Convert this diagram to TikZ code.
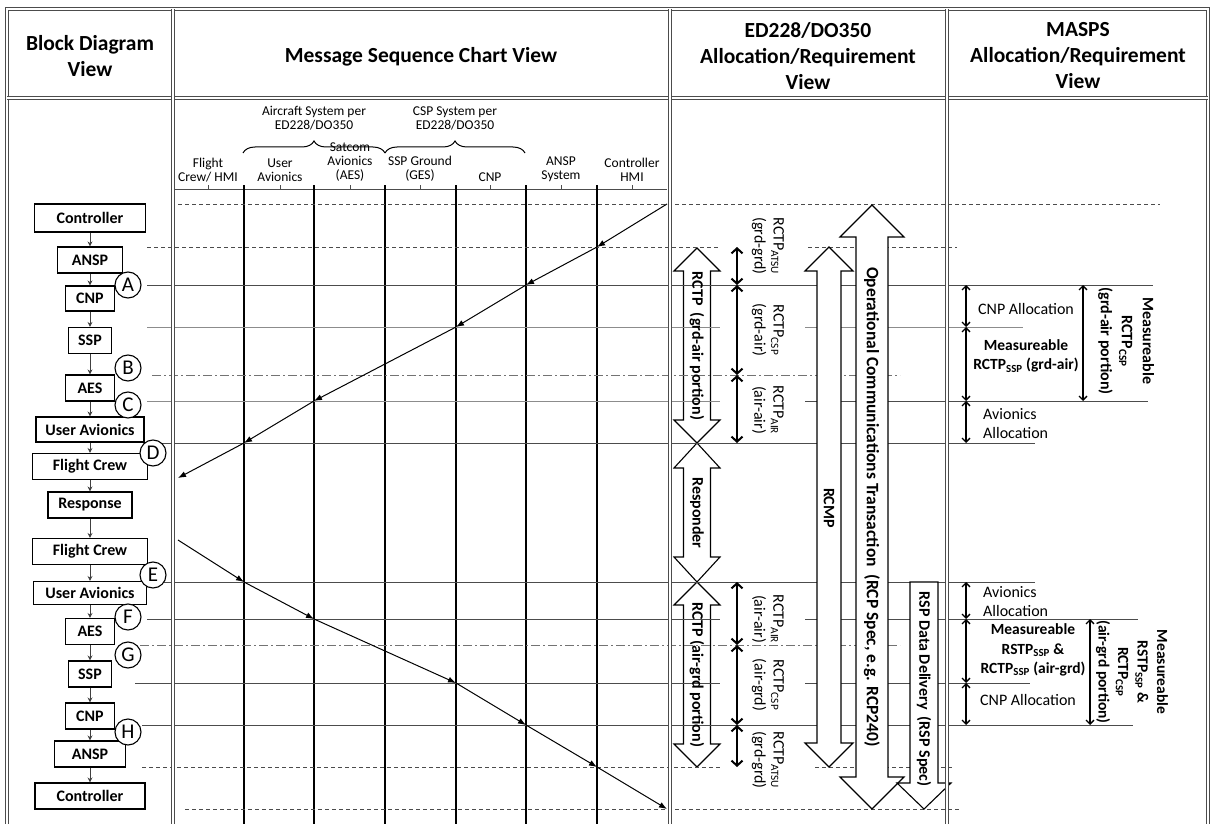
\documentclass[tikz,border=0pt]{standalone}
\usepackage{fontspec}
\setmainfont{Carlito}
\usetikzlibrary{arrows.meta,decorations.pathreplacing}
\newcommand{\fsz}[2]{\fontsize{#1}{#2}\selectfont}
% xc, ytop, ybot, half shaft, half head, head length
\newcommand{\dblarr}[6]{%
  \path[fat] (#1,#2) -- ({#1+#5},{#2+#6}) -- ({#1+#4},{#2+#6}) -- ({#1+#4},{#3-#6}) -- ({#1+#5},{#3-#6}) -- (#1,#3) -- ({#1-#5},{#3-#6}) -- ({#1-#4},{#3-#6}) -- ({#1-#4},{#2+#6}) -- ({#1-#5},{#2+#6}) -- cycle;}
\begin{document}
\begin{tikzpicture}[x=1pt,y=-1pt,
  blk/.style={draw=black, line width=1.1pt, font=\bfseries\fsz{16}{18}, inner sep=0pt, minimum height=26pt},
  lbl/.style={circle, draw=black, line width=1.1pt, fill=white, minimum size=26pt, inner sep=0pt, font=\fsz{21}{21}},
  flow/.style={-{Stealth[length=5pt,width=5pt]}, line width=0.8pt, draw=black!75},
  msg/.style={-{Latex[length=8pt,width=6pt]}, line width=1pt, draw=black},
  hl/.style={draw=black!70, line width=1pt},
  hlg/.style={draw=black!45, line width=1pt},
  hld/.style={draw=black!70, line width=1pt, dash pattern=on 4pt off 3pt},
  hlc/.style={draw=black!55, line width=1pt, dash pattern=on 9pt off 3pt on 2pt off 3pt},
  sep/.style={draw=black!70, double=white, line width=1pt, double distance=2.5pt},
  life/.style={draw=black, line width=1.1pt},
  fat/.style={draw=black, line width=1.1pt, fill=white},
  thk/.style={{Straight Barb[length=5pt,width=11pt]}-{Straight Barb[length=5pt,width=11pt]}, line width=2pt},
  thn/.style={{Straight Barb[length=4pt,width=8pt]}-{Straight Barb[length=4pt,width=8pt]}, line width=1.3pt},
  hdr/.style={font=\bfseries\fsz{21.5}{26}, align=center},
  msch/.style={font=\fsz{13.5}{14}, align=center, inner sep=0pt},
  rl/.style={rotate=-90, font=\fsz{16}{19}, align=center, inner sep=0pt},
  rb/.style={rotate=-90, font=\bfseries\fsz{16}{18}, align=center, inner sep=0pt},
  ml/.style={font=\fsz{16}{19}, align=left, inner sep=0pt},
  mb/.style={font=\bfseries\fsz{15.5}{19.5}, align=center, inner sep=0pt}
]
\fill[white] (0,0) rectangle (1213,824);
\useasboundingbox (0,0) rectangle (1213,824);

% ---------- big response arrows (under lines) ----------
\dblarr{697}{248}{443}{13.5}{23}{23}
\dblarr{697}{443}{582}{13.5}{23}{25}
\dblarr{697}{582}{767}{13.5}{23}{23}

% ---------- MSC header ----------
\node[msch] (hac) at (314,118) {Aircraft System per\\ED228/DO350};
\node[msch] (hcsp) at (455,118) {CSP System per\\ED228/DO350};
\draw[line width=1pt, decorate, decoration={brace, amplitude=12pt}] (243,153) -- (385,153);
\draw[line width=1pt, decorate, decoration={brace, amplitude=12pt}] (385,153) -- (525,153);
\node[msch, anchor=south] (lfc) at (208,182) {Flight\\Crew/ HMI};
\node[msch, anchor=south] (lua) at (280,182) {User\\Avionics};
\node[msch, anchor=south] (laes) at (350,182) {Satcom\\Avionics\\(AES)};
\node[msch, anchor=south] (lssp) at (420,182) {SSP Ground\\(GES)};
\node[msch, anchor=south] (lcnp) at (490,182) {CNP};
\node[msch, anchor=south] (lansp) at (561,182) {ANSP\\System};
\node[msch, anchor=south] (lctl) at (632,182) {Controller\\HMI};
\draw[hl] (173,189) -- (667,189);
\foreach \x in {208,280,350,420,490,561,632} \draw[hl] (\x,185) -- (\x,189);

% ---------- lifelines ----------
\foreach \x in {244,314,385,456,526,597} \draw[life] (\x,185) -- (\x,824);

% ---------- horizontal reference lines ----------
\draw[hld] (178,204) -- (1160,204);
\draw[hld] (147,247) -- (720,247);
\draw[hld] (808,247) -- (957,247);
\draw[hl] (147,285) -- (1153,285);
\draw[hlg] (147,327) -- (720,327);
\draw[hlg] (805,327) -- (1023,327);
\draw[hlc] (152,375) -- (900,375);
\draw[hlg] (147,401) -- (720,401);
\draw[hl] (805,401) -- (1148,401);
\draw[hl] (145,443) -- (1035,443);
\draw[hl] (146,582) -- (1035,582);
\draw[hl] (147,619) -- (720,619);
\draw[hl] (805,619) -- (1138,619);
\draw[hlc] (140,645) -- (900,645);
\draw[hl] (135,683) -- (720,683);
\draw[hl] (805,683) -- (1030,683);
\draw[hl] (142,725) -- (1133,725);
\draw[hld] (142,767) -- (722,767);
\draw[hld] (815,767) -- (952,767);
\draw[hld] (185,809) -- (960,809);

% ---------- messages ----------
\coordinate (m0) at (667,204);
\coordinate (m1) at (597,247);
\coordinate (m2) at (526,285);
\coordinate (m3) at (456,327);
\coordinate (m4) at (314,401);
\coordinate (m5) at (244,443);
\coordinate (m6) at (178,478);
\draw[msg] (m0) -- (m1);
\draw[msg] (m1) -- (m2);
\draw[msg] (m2) -- (m3);
\draw[msg] (m3) -- (m4);
\draw[msg] (m4) -- (m5);
\draw[msg] (m5) -- (m6);
\coordinate (n0) at (178,540);
\coordinate (n1) at (244,582);
\coordinate (n2) at (314,619);
\coordinate (n3) at (456,683);
\coordinate (n4) at (526,725);
\coordinate (n5) at (597,767);
\coordinate (n6) at (667,809);
\draw[msg] (n0) -- (n1);
\draw[msg] (n1) -- (n2);
\draw[msg] (n2) -- (n3);
\draw[msg] (n3) -- (n4);
\draw[msg] (n4) -- (n5);
\draw[msg] (n5) -- (n6);

% ---------- ED228 column ----------
\node[rb] (trctp1) at (697,346) {RCTP \ (grd-air portion)};
\node[rb] (tresp) at (697,513) {Responder};
\node[rb] (trctp2) at (697,675) {RCTP (air-grd portion)};

\dblarr{829}{247}{767}{12}{24}{24}
\node[rb] (trcmp) at (829,508) {RCMP};
\dblarr{872}{205}{809}{16}{32}{32}
\node[rb, font=\bfseries\fsz{17.5}{20}] (top) at (872,507) {Operational Communications Transaction \ (RCP Spec, e.g. RCP240)};
\path[fat] (910,582) -- (938,582) -- (938,783) -- (951,783) -- (924,809) -- (897,783) -- (910,783) -- cycle;
\node[rb] (trsp) at (924,689) {RSP Data Delivery \ (RSP Spec)};

\coordinate (e1) at (737,247);
\coordinate (e2) at (737,285);
\coordinate (e3) at (737,375);
\coordinate (e4) at (737,443);
\coordinate (e5) at (737,582);
\coordinate (e6) at (737,645);
\coordinate (e7) at (737,725);
\coordinate (e8) at (737,767);
\draw[thk] (e1) -- (e2);
\draw[thk] (e2) -- (e3);
\draw[thk] (e3) -- (e4);
\draw[thk] (e5) -- (e6);
\draw[thk] (e6) -- (e7);
\draw[thk] (e7) -- (e8);
\node[rl] (r1) at (768,246) {RCTP\textsubscript{ATSU}\\(grd-grd)};
\node[rl] (r2) at (768,330) {RCTP\textsubscript{CSP}\\(grd-air)};
\node[rl] (r3) at (768,410) {RCTP\textsubscript{AIR}\\(air-air)};
\node[rl] (r4) at (768,619) {RCTP\textsubscript{AIR}\\(air-air)};
\node[rl] (r5) at (768,685) {RCTP\textsubscript{CSP}\\(air-grd)};
\node[rl] (r6) at (768,760) {RCTP\textsubscript{ATSU}\\(grd-grd)};

% ---------- MASPS column ----------
\coordinate (p1) at (966,285);
\coordinate (p2) at (966,327);
\coordinate (p3) at (966,401);
\coordinate (p4) at (966,443);
\coordinate (q1) at (1083,285);
\coordinate (q2) at (1083,401);
\draw[thn] (p1) -- (p2);
\draw[thn] (p2) -- (p3);
\draw[thn] (p3) -- (p4);
\draw[thn] (q1) -- (q2);
\node[ml] (s1) at (1026,309) {CNP Allocation};
\node[mb] (s2) at (1026,356) {Measureable\\RCTP\textsubscript{SSP} (grd-air)};
\node[ml, anchor=west] (s3) at (983,424) {Avionics\\Allocation};
\node[rb, font=\bfseries\fsz{16}{21}] (s4) at (1126,341) {Measureable\\RCTP\textsubscript{CSP}\\(grd-air portion)};

\coordinate (p5) at (966,582);
\coordinate (p6) at (966,619);
\coordinate (p7) at (966,683);
\coordinate (p8) at (966,725);
\coordinate (q3) at (1090,619);
\coordinate (q4) at (1090,725);
\draw[thn] (p5) -- (p6);
\draw[thn] (p6) -- (p7);
\draw[thn] (p7) -- (p8);
\draw[thn] (q3) -- (q4);
\node[ml, anchor=west] (s5) at (983,602) {Avionics\\Allocation};
\node[mb] (s6) at (1033,650) {Measureable\\RSTP\textsubscript{SSP} \&\\RCTP\textsubscript{SSP} (air-grd)};
\node[ml] (s7) at (1028,700) {CNP Allocation};
\node[rb, font=\bfseries\fsz{15.5}{19.5}] (s8) at (1132,672) {Measureable\\RSTP\textsubscript{SSP} \&\\RCTP\textsubscript{CSP}\\(air-grd portion)};

% ---------- block diagram ----------
\node[blk, minimum width=111pt, minimum height=28pt] (ctl1) at (90,218) {Controller};
\node[blk, minimum width=65pt] (ansp1) at (90,260) {ANSP};
\node[blk, minimum width=49pt, minimum height=25pt] (cnp1) at (90,298.5) {CNP};
\node[blk, minimum width=43pt] (ssp1) at (90,340.5) {SSP};
\node[blk, minimum width=49pt] (aes1) at (90,388) {AES};
\node[blk, minimum width=108pt, minimum height=25pt] (ua1) at (90,429.5) {User Avionics};
\node[blk, minimum width=115pt] (fc1) at (90,466.5) {Flight Crew};
\node[blk, minimum width=84pt] (resp) at (90,505) {Response};
\node[blk, minimum width=115pt] (fc2) at (90,551.5) {Flight Crew};
\node[blk, minimum width=113pt, minimum height=23pt] (ua2) at (90,593) {User Avionics};
\node[blk, minimum width=49pt] (aes2) at (90,631.5) {AES};
\node[blk, minimum width=43pt] (ssp2) at (90,674) {SSP};
\node[blk, minimum width=49pt] (cnp2) at (90,716) {CNP};
\node[blk, minimum width=71pt] (ansp2) at (90,754) {ANSP};
\node[blk, minimum width=110pt] (ctl2) at (90,796) {Controller};
\draw[flow] (ctl1) -- (ansp1);
\draw[flow] (ansp1) -- (cnp1);
\draw[flow] (cnp1) -- (ssp1);
\draw[flow] (ssp1) -- (aes1);
\draw[flow] (aes1) -- (ua1);
\draw[flow] (ua1) -- (fc1);
\draw[flow] (fc1) -- (resp);
\draw[flow] (resp) -- (fc2);
\draw[flow] (fc2) -- (ua2);
\draw[flow] (ua2) -- (aes2);
\draw[flow] (aes2) -- (ssp2);
\draw[flow] (ssp2) -- (cnp2);
\draw[flow] (cnp2) -- (ansp2);
\draw[flow] (ansp2) -- (ctl2);
\node[lbl] (cA) at (128,285) {A};
\node[lbl] (cB) at (128,368) {B};
\node[lbl] (cC) at (128,405) {C};
\node[lbl] (cD) at (153,453) {D};
\node[lbl] (cE) at (153,575) {E};
\node[lbl] (cF) at (128,617) {F};
\node[lbl] (cG) at (128,655) {G};
\node[lbl] (cH) at (128,732) {H};

% ---------- frame and column separators ----------
\draw[sep] (7,824) -- (7,9) -- (1208,9) -- (1208,824);
\draw[sep] (7,98) -- (1208,98);
\draw[sep] (173,9) -- (173,824);
\draw[sep] (670,9) -- (670,824);
\draw[sep] (947,9) -- (947,824);

% ---------- header ----------
\node[hdr] (h1) at (90,56) {Block Diagram\\View};
\node[hdr] (h2) at (421,57) {Message Sequence Chart View};
\node[hdr] (h3) at (808,56) {ED228/DO350\\Allocation/Requirement\\View};
\node[hdr] (h4) at (1078,56) {MASPS\\Allocation/Requirement\\View};
\end{tikzpicture}
\end{document}
